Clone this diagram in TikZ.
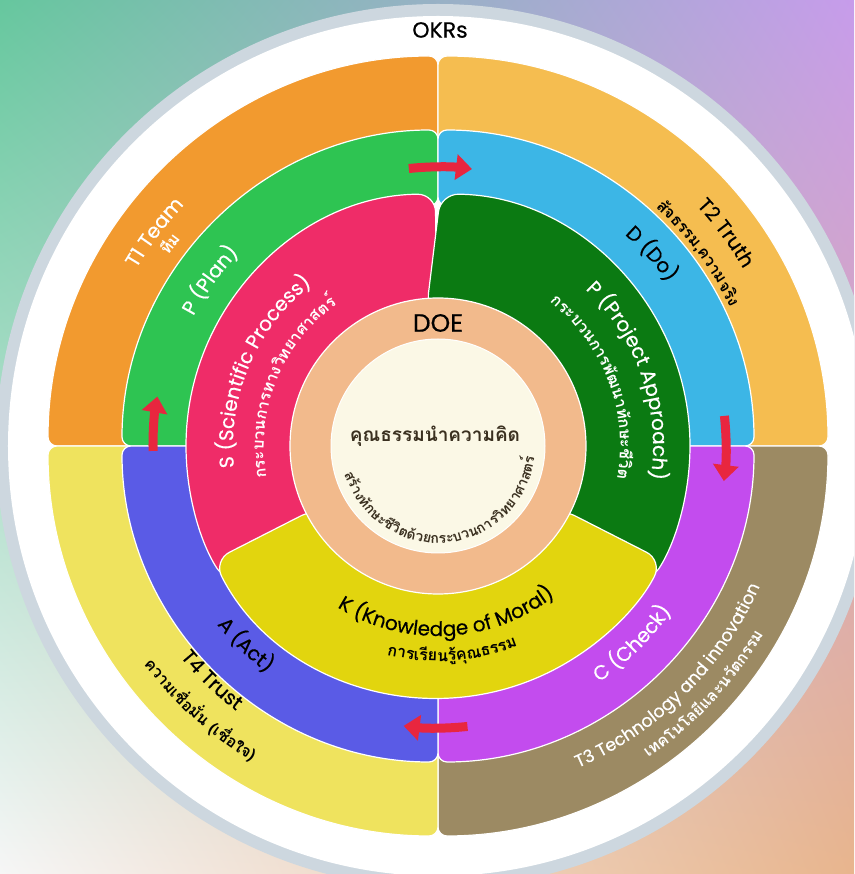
\documentclass[tikz,border=0pt]{standalone}
\usepackage{fontspec}
\setmainfont{Poppins}[FakeBold=0.4]
\newfontfamily\thaifont[Script=Thai]{Loma}
\usetikzlibrary{decorations.text,arrows.meta,shadings}

\definecolor{bgtl}{HTML}{66C79E}
\definecolor{bgtr}{HTML}{C79CEB}
\definecolor{bgbl}{HTML}{F6F6F6}
\definecolor{bgbr}{HTML}{E8B58D}
\definecolor{rimgrey}{HTML}{CDD7DF}
\definecolor{teamorange}{HTML}{F29A2F}
\definecolor{truthorange}{HTML}{F5BD50}
\definecolor{techbrown}{HTML}{9C8A63}
\definecolor{trustyellow}{HTML}{EFE35E}
\definecolor{plangreen}{HTML}{2EC452}
\definecolor{doblue}{HTML}{3CB6E6}
\definecolor{checkpurple}{HTML}{C34CEE}
\definecolor{actblue}{HTML}{5A5BE6}
\definecolor{scipink}{HTML}{EF2C68}
\definecolor{projgreen}{HTML}{0B7A12}
\definecolor{moralyellow}{HTML}{E2D50E}
\definecolor{doepeach}{HTML}{F2BA8C}
\definecolor{corecream}{HTML}{FBF8E6}
\definecolor{arrowred}{HTML}{E8263F}
\definecolor{coretext}{HTML}{3A3020}

\tikzset{
  ringpart/.style={draw=white, line width=1.2pt, rounded corners=#1},
  ringpart/.default=9pt,
  bendarrow/.style={draw=arrowred, line width=9pt, -{Triangle[width=25pt,length=16pt]}},
}

\newcommand{\latfont}{\fontsize{20}{20}\selectfont}
\newcommand{\thfont}{\thaifont\bfseries\fontsize{16}{16}\selectfont}

% colour, inner radius, outer radius, from, to
\newcommand{\ringsector}[5]{%
  \fill[ringpart, fill=#1] (#4:#3) arc[start angle=#4,end angle=#5,radius=#3]
    -- (#5:#2) arc[start angle=#5,end angle=#4,radius=#2] -- cycle;}
% colour, radius, from, to, text
\newcommand{\ringlabel}[5]{%
  \path[decorate,decoration={text along path,text align=center,text color=#1,text={#5}}]
    (#3:#2) arc[start angle=#3,end angle=#4,radius=#2];}

\begin{document}
\begin{tikzpicture}[x=1pt,y=1pt]
    \useasboundingbox (-438,-428) rectangle (416,446);
    \clip (-438,-428) rectangle (416,446);
    \shade[upper left=bgtl, upper right=bgtr, lower left=bgbl, lower right=bgbr] (-438,-428) rectangle (416,446);
    \fill[rimgrey] (0,0) circle[radius=442];
    \fill[white] (0,0) circle[radius=430];

    % outer ring: T1 - T4
    \ringsector{teamorange}{300}{390}{180}{90}
    \ringsector{truthorange}{300}{390}{90}{0}
    \ringsector{techbrown}{300}{390}{0}{-90}
    \ringsector{trustyellow}{300}{390}{-90}{-180}
    % PDCA ring
    \ringsector{plangreen}{240}{316}{180}{90}
    \ringsector{doblue}{240}{316}{90}{0}
    \ringsector{checkpurple}{240}{316}{0}{-90}
    \ringsector{actblue}{240}{316}{-90}{-180}
    % S P K ring
    \fill[ringpart=18pt, fill=scipink] (90.6:252) arc[start angle=90.6,end angle=213,radius=252] -- (213:135) arc[start angle=213,end angle=90.6,radius=135] -- cycle;
    \fill[ringpart=18pt, fill=projgreen] (89.4:252) arc[start angle=89.4,end angle=-33,radius=252] -- (-33:135) arc[start angle=-33,end angle=95,radius=135] -- cycle;
    \fill[ringpart=18pt, fill=moralyellow] (207:252) arc[start angle=207,end angle=333,radius=252] -- (333:135) arc[start angle=333,end angle=207,radius=135] -- cycle;
    % DOE core
    \fill[doepeach, draw=white, line width=1.2pt] (0,0) circle[radius=148];
    \fill[corecream, draw=white, line width=1pt] (0,0) circle[radius=107];

    % PDCA arrows
    \draw[bendarrow] (96:279) arc[start angle=96,end angle=83,radius=279];
    \draw[bendarrow] (6:288) arc[start angle=6,end angle=-7,radius=288];
    \draw[bendarrow] (-84:282) arc[start angle=-84,end angle=-97,radius=282];
    \draw[bendarrow] (181:285) arc[start angle=181,end angle=170,radius=285];

    \node (okrs) at (2,416) {\fontsize{22}{22}\selectfont OKRs};
    \node (doe) at (0,123) {\fontsize{25}{25}\selectfont DOE};
    \node[text=coretext] (moral) at (-3,10) {\thaifont\bfseries\fontsize{19}{19}\selectfont คุณธรรมนำความคิด};

    % labels, upper half
    \ringlabel{white}{350}{188}{98}{|\latfont|T1 Team}
    \ringlabel{white}{330}{188}{98}{|\thfont|{ทีม}}
    \ringlabel{white}{277}{189}{99}{|\latfont|P (Plan)}
    \ringlabel{white}{205}{217}{97}{|\latfont|S (Scientific Process)}
    \ringlabel{white}{174}{218}{98}{|\thfont|{กระ}{บวน}{การ}{ทาง}{วิท}{ยา}{ศาส}{ตร์}}
    \ringlabel{black}{282}{87}{-3}{|\latfont|D (Do)}
    \ringlabel{white}{215}{79}{-41}{|\latfont|P (Project Approach)}
    \ringlabel{white}{182}{81}{-39}{|\thfont|{กระ}{บวน}{การ}{พัฒ}{นา}{ทัก}{ษะ}{ชี}{วิต}}
    \ringlabel{black}{353}{81}{-8}{|\latfont|T2 Truth}
    \ringlabel{black}{323}{81}{-8}{|\thfont|{สัจ}{ธรรม}{,}{ความ}{จริง}}
    % labels, lower half
    \ringlabel{black}{284}{-179}{-89}{|\latfont|A (Act)}
    \ringlabel{black}{333}{-179}{-89}{|\latfont|T4 Trust}
    \ringlabel{black}{366}{-177}{-87}{|\thfont|{ความ}{เชื่อ}{มั่น} {(}{เชื่อ}{ใจ}{)}}
    \ringlabel{white}{286}{-91}{0}{|\latfont|C (Check)}
    \ringlabel{white}{351}{-95}{5}{|\fontsize{17.5}{17.5}\selectfont|T3 Technology and innovation}
    \ringlabel{white}{376}{-93}{7}{|\thfont|{เทค}{โน}{โล}{ยี}{และ}{นวัต}{กรรม}}
    \ringlabel{black}{190}{-147}{-27}{|\latfont|K (Knowledge of Moral)}
    \ringlabel{black}{215}{-146}{-26}{|\thfont|{การ}{เรียน}{รู้}{คุณ}{ธรรม}}
    \ringlabel{coretext}{97}{175}{375}{|\thaifont\bfseries\fontsize{14}{14}\selectfont|{สร้าง}{ทัก}{ษะ}{ชี}{วิต}{ด้วย}{กระ}{บวน}{การ}{วิท}{ยา}{ศาส}{ตร์}}
\end{tikzpicture}
\end{document}
